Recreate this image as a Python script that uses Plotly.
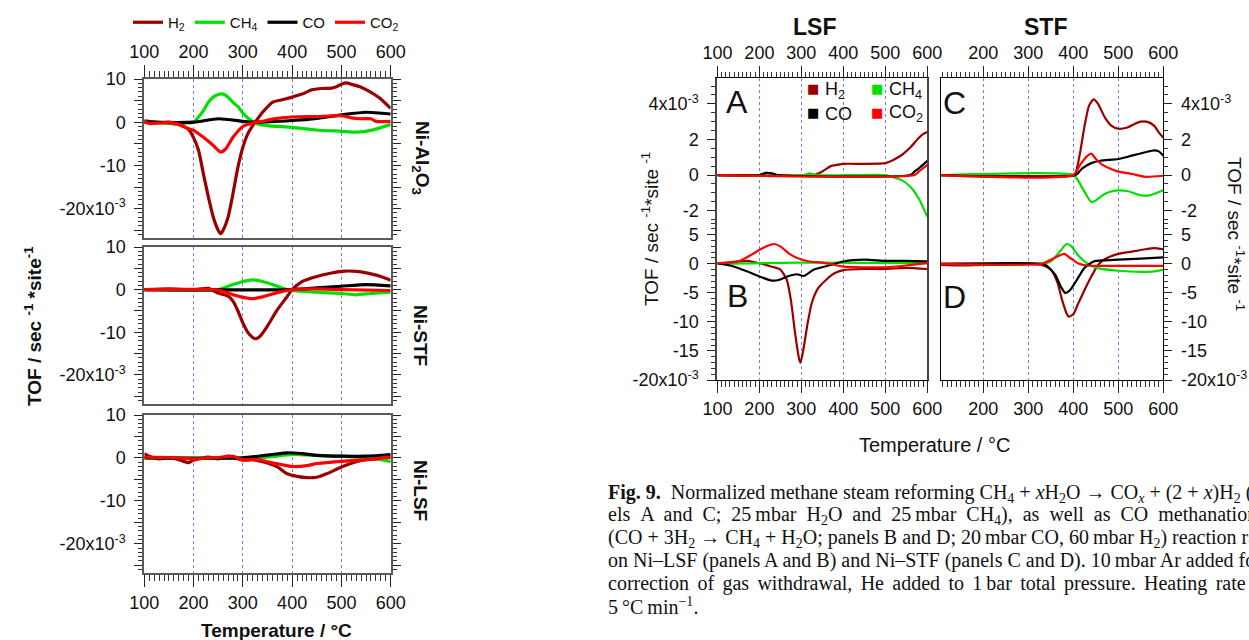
import plotly.graph_objects as go

W, H = 1249, 640

# ---------------- DATA (TOF in 1e-3 sec^-1 site^-1, T in degC) ----------------
# Left figure, Ni-Al2O3
al_h2_T = [100, 150, 170, 190, 200, 210, 220, 230, 240, 250, 255, 260, 270, 280, 290, 300, 310, 320, 330, 340, 360, 380, 400, 420, 440, 460, 480, 490, 500, 510, 520, 540, 560, 580, 600]
al_h2 = [0.3, -0.3, -0.5, -1.7, -3.6, -6.5, -12, -17.3, -22, -25, -25.8, -25, -22, -16.5, -10.4, -5.8, -2.7, -0.8, 0.8, 2.3, 4.6, 5.2, 5.8, 6.5, 7.5, 7.8, 7.9, 8.2, 8.8, 9.1, 8.8, 8.1, 6.9, 5.4, 3.2]
al_ch4_T = [100, 200, 210, 220, 230, 240, 250, 260, 270, 280, 290, 300, 310, 320, 330, 350, 400, 450, 500, 530, 560, 600]
al_ch4 = [0, 0, 1.2, 2.7, 4.6, 5.8, 6.4, 6.5, 5.8, 4.6, 3.6, 2.1, 1.0, 0.2, -0.4, -0.8, -1.2, -1.8, -2.1, -2.3, -1.9, -0.5]
al_co_T = [100, 200, 250, 300, 320, 400, 450, 500, 550, 600]
al_co = [0, 0, 0.8, 0.2, 0, 0.4, 0.9, 1.7, 2.3, 1.9]
al_co2_T = [100, 110, 130, 150, 170, 190, 200, 220, 240, 255, 265, 280, 300, 320, 340, 360, 400, 450, 500, 520, 540, 560, 570, 600]
al_co2 = [0.2, -0.3, -0.2, 0, -0.5, -1.5, -1.9, -3.5, -5.4, -6.9, -6.2, -3.5, -1.0, -0.2, 0.2, 0.7, 1.2, 1.3, 1.5, 1.0, 0.8, 0.8, 0.2, 0.2]

# Left figure, Ni-STF
st_h2_T = [100, 150, 200, 230, 250, 270, 280, 290, 300, 310, 320, 325, 335, 350, 370, 390, 400, 420, 450, 480, 500, 530, 560, 580, 600]
st_h2 = [0, 0.2, 0, 0.3, -0.8, -1.5, -2.7, -5, -7.8, -10, -11.2, -11.5, -10.9, -8.5, -4.7, -1.6, 0, 1.9, 3.1, 3.9, 4.3, 4.3, 3.7, 3.1, 2.2]
st_ch4_T = [100, 250, 270, 300, 320, 340, 360, 380, 400, 450, 500, 530, 560, 600]
st_ch4 = [0, 0, 0.8, 1.9, 2.3, 1.9, 1.2, 0.4, -0.2, -0.6, -0.9, -1.2, -0.9, -0.6]
st_co_T = [100, 400, 450, 500, 550, 600]
st_co = [0, 0, 0.4, 0.8, 1.2, 0.9]
st_co2_T = [100, 240, 260, 280, 300, 320, 340, 360, 380, 400, 450, 500, 600]
st_co2 = [0, 0, -0.4, -1.2, -1.8, -2.1, -1.7, -1.0, -0.4, 0, 0.2, 0, -0.2]

# Left figure, Ni-LSF
ls_h2_T = [100, 110, 130, 150, 170, 190, 200, 230, 250, 270, 290, 300, 320, 350, 370, 390, 410, 430, 450, 470, 500, 530, 550, 580, 600]
ls_h2 = [1.0, 0.4, -0.2, 0.1, -0.4, -1.1, -0.5, 0.2, -0.2, 0.4, -0.2, -0.5, -0.4, -1.2, -2.1, -3.7, -4.3, -4.6, -4.5, -3.7, -2.1, -0.9, -0.4, -0.2, 0.1]
ls_ch4_T = [100, 300, 350, 400, 450, 500, 550, 580, 600]
ls_ch4 = [0, 0, 0.2, 0.8, 0.6, 0.4, 0, -0.4, -0.9]
ls_co_T = [100, 300, 330, 360, 390, 420, 450, 500, 550, 600]
ls_co = [0, 0, 0.4, 0.8, 1.2, 1.0, 0.6, 0.4, 0.4, 0.8]
ls_co2_T = [100, 150, 200, 250, 280, 300, 330, 350, 380, 400, 430, 450, 500, 550, 600]
ls_co2 = [0.2, 0.1, -0.2, 0.1, 0.4, -0.4, -0.4, -0.9, -1.6, -2.0, -1.8, -1.3, -0.8, -0.4, 0.2]

# Right figure, panel A (LSF, steam reforming)
a_h2_T = [100, 200, 220, 240, 330, 350, 370, 385, 400, 450, 500, 520, 540, 560, 580, 590, 600]
a_h2 = [0, 0, 0.1, 0, 0, 0.2, 0.5, 0.57, 0.63, 0.63, 0.67, 0.86, 1.14, 1.56, 2.1, 2.3, 2.42]
a_ch4_T = [100, 305, 320, 335, 500, 520, 540, 560, 580, 600]
a_ch4 = [0, 0, 0.1, 0, 0, -0.13, -0.3, -0.67, -1.33, -2.34]
a_co_T = [100, 200, 215, 230, 245, 560, 570, 580, 600]
a_co = [0, 0, 0.12, 0.1, 0, 0, 0.2, 0.38, 0.8]
a_co2_T = [100, 570, 580, 600]
a_co2 = [0, 0, 0.2, 0.57]

# Right figure, panel B (LSF, CO methanation)
b_h2_T = [100, 150, 170, 200, 230, 250, 265, 275, 285, 295, 298, 305, 315, 325, 340, 360, 380, 400, 450, 500, 550, 600]
b_h2 = [0, 0.4, 0.5, 0.1, -0.5, -1.0, -2.7, -6.2, -11.9, -16.5, -17, -14.7, -10.2, -6.7, -4.2, -2.7, -1.6, -1.1, -0.9, -0.9, -0.7, -0.9]
b_ch4_T = [100, 300, 600]
b_ch4 = [0, 0.2, 0.1]
b_co_T = [100, 130, 170, 200, 230, 250, 270, 290, 305, 330, 370, 400, 450, 500, 550, 600]
b_co = [0.1, -0.3, -1.3, -2.2, -2.9, -2.7, -2.1, -1.8, -2.1, -1.0, -0.2, 0.4, 0.7, 0.5, 0.5, 0.4]
b_co2_T = [100, 150, 180, 200, 220, 235, 250, 270, 290, 320, 350, 380, 400, 450, 500, 550, 600]
b_co2 = [0.1, 0.4, 1.5, 2.4, 3.1, 3.4, 3.0, 1.8, 1.0, 0.4, 0.2, -0.2, -0.5, -0.6, -0.6, -0.3, 0.1]

# Right figure, panel C (STF, steam reforming)
c_h2_T = [106, 400, 405, 415, 425, 435, 445, 455, 470, 485, 500, 520, 535, 550, 565, 580, 590, 600]
c_h2 = [0, 0, 0.1, 1.24, 2.76, 3.9, 4.25, 4.0, 3.24, 2.76, 2.6, 2.67, 2.86, 3.0, 2.99, 2.76, 2.4, 2.1]
c_ch4_T = [106, 400, 410, 425, 440, 450, 465, 480, 500, 520, 550, 570, 600]
c_ch4 = [0, 0, -0.29, -0.95, -1.52, -1.43, -1.14, -0.95, -0.86, -0.9, -1.14, -1.14, -0.86]
c_co_T = [106, 405, 420, 440, 460, 500, 530, 560, 580, 590, 600]
c_co = [0, 0, 0.38, 0.67, 0.8, 0.9, 1.09, 1.28, 1.39, 1.33, 1.09]
c_co2_T = [106, 400, 415, 430, 440, 450, 465, 480, 500, 530, 560, 600]
c_co2 = [0, 0, 0.57, 1.05, 1.2, 0.9, 0.57, 0.38, 0.19, 0.06, -0.1, -0.04]

# Right figure, panel D (STF, CO methanation)
d_h2_T = [106, 150, 200, 250, 300, 330, 350, 365, 375, 385, 390, 400, 410, 425, 440, 455, 470, 500, 530, 560, 580, 600]
d_h2 = [-0.2, -0.3, -0.2, -0.2, 0, -0.2, -1.0, -3.3, -6.2, -8.5, -9.1, -8.7, -7.0, -4.5, -2.2, -0.2, 0.8, 1.7, 2.1, 2.5, 2.7, 2.5]
d_ch4_T = [106, 326, 350, 370, 385, 396, 410, 430, 452, 500, 550, 580, 600]
d_ch4 = [0, 0, 0.4, 2.1, 3.4, 3.0, 1.5, 0.1, -0.7, -1.2, -1.4, -1.3, -1.0]
d_co_T = [106, 330, 340, 360, 372, 382, 393, 410, 425, 445, 470, 500, 550, 600]
d_co = [0, 0, -0.3, -1.9, -3.9, -5.0, -4.5, -2.5, -0.7, 0.4, 0.6, 0.7, 0.9, 1.1]
d_co2_T = [106, 330, 350, 368, 380, 393, 410, 430, 500, 600]
d_co2 = [0, 0, 0.7, 1.4, 1.7, 1.0, 0.1, -0.3, -0.35, -0.35]

gases = ["H<sub>2</sub>", "CH<sub>4</sub>", "CO", "CO<sub>2</sub>"]
colors = ["#990000", "#00E000", "#000000", "#FF0000"]
temp_ticks = [100, 200, 300, 400, 500, 600]

# ---------------- helpers ----------------
def px(x):
    return x / W

def py(y):
    return 1 - y / H

SANS = "Liberation Sans, Arial, sans-serif"
GRID = "#7A7AFF"

fig = go.Figure()

def add_series(T, v, gi, xa, ya, width, legend=False):
    fig.add_trace(go.Scatter(
        x=T, y=v, mode="lines", name=gases[gi], xaxis=xa, yaxis=ya,
        line=dict(color=colors[gi], width=width, shape="spline", smoothing=0.6),
        showlegend=legend, hoverinfo="skip"))

left_sets = [
    ("x", "y", [(al_h2_T, al_h2), (al_ch4_T, al_ch4), (al_co_T, al_co), (al_co2_T, al_co2)]),
    ("x2", "y2", [(st_h2_T, st_h2), (st_ch4_T, st_ch4), (st_co_T, st_co), (st_co2_T, st_co2)]),
    ("x3", "y3", [(ls_h2_T, ls_h2), (ls_ch4_T, ls_ch4), (ls_co_T, ls_co), (ls_co2_T, ls_co2)]),
]
for k, (xa, ya, ser) in enumerate(left_sets):
    for gi, (T, v) in enumerate(ser):
        add_series(T, v, gi, xa, ya, 3.2, legend=(k == 0))

right_sets = [
    ("x4", "y7", [(a_h2_T, a_h2), (a_ch4_T, a_ch4), (a_co_T, a_co), (a_co2_T, a_co2)]),
    ("x5", "y8", [(b_h2_T, b_h2), (b_ch4_T, b_ch4), (b_co_T, b_co), (b_co2_T, b_co2)]),
    ("x6", "y9", [(c_h2_T, c_h2), (c_ch4_T, c_ch4), (c_co_T, c_co), (c_co2_T, c_co2)]),
    ("x7", "y10", [(d_h2_T, d_h2), (d_ch4_T, d_ch4), (d_co_T, d_co), (d_co2_T, d_co2)]),
]
for xa, ya, ser in right_sets:
    for gi, (T, v) in enumerate(ser):
        add_series(T, v, gi, xa, ya, 2.2)

# ---------------- axes ----------------
XL = [px(144.3), px(390.7)]
YL = [[py(238), py(79)], [py(404), py(247)], [py(573), py(415)]]
XA = [px(717.4), px(927.3)]
XC = [px(941), px(1163.3)]
YU = [py(222), py(77.7)]
YD = [py(380), py(222)]

def xax(domain, anchor, rng, side, labels, ticks, tlen, lcolor, lw, mirror, fs=18):
    d = dict(domain=domain, anchor=anchor, range=rng, side=side, automargin=False,
             tickmode="array", tickvals=temp_ticks, showticklabels=labels,
             ticks=ticks, ticklen=tlen, tickwidth=1.4, tickcolor="#222",
             tickfont=dict(family=SANS, size=fs, color="#111"),
             showline=True, linecolor=lcolor, linewidth=lw, mirror=mirror,
             showgrid=True, gridcolor=GRID, griddash="dot", gridwidth=1,
             zeroline=False, fixedrange=True)
    if ticks:
        d["minor"] = dict(dtick=10, tick0=100, ticks=ticks, ticklen=int(tlen / 2),
                          tickwidth=1, tickcolor="#333", showgrid=False)
    return d

def yax(domain, anchor, rng, side, tvals, ttext, minor, lcolor, lw, mirror, inside=False, fs=18, overlay=None):
    d = dict(domain=domain, anchor=anchor, range=rng, side=side, automargin=False,
             tickmode="array", tickvals=tvals, ticktext=ttext,
             ticks="inside" if inside else "outside", ticklen=8, tickwidth=1.4, tickcolor="#222",
             minor=dict(dtick=minor, tick0=0, ticks="inside" if inside else "outside",
                        ticklen=4, tickwidth=1, tickcolor="#333", showgrid=False),
             tickfont=dict(family=SANS, size=fs, color="#111"),
             showgrid=False, zeroline=False, fixedrange=True, ticklabelstandoff=5)
    if inside:
        d.update(showticklabels=False, showline=False, mirror="ticks", overlaying=overlay)
    else:
        d.update(showline=True, linecolor=lcolor, linewidth=lw, mirror=mirror)
    return d

layout_axes = {}
LRANGE = [-26.8, 10]
ltv = [-25, -20, -15, -10, -5, 0, 5, 10]
ltt = ["", "-20x10<sup>-3</sup>", "", "-10", "", "0", "", "10"]
FR = "#5A5A5A"
layout_axes["xaxis"] = xax(XL, "y", [100, 600], "top", True, "outside", 12, FR, 2, True)
layout_axes["xaxis2"] = xax(XL, "y2", [100, 600], "bottom", False, "", 0, FR, 2, True)
layout_axes["xaxis3"] = xax(XL, "y3", [100, 600], "bottom", True, "outside", 12, FR, 2, True)
for i, (yn, xn, ov) in enumerate([("yaxis", "x", "yaxis4"), ("yaxis2", "x2", "yaxis5"), ("yaxis3", "x3", "yaxis6")]):
    layout_axes[yn] = yax(YL[i], xn, LRANGE, "left", ltv, ltt, 1, FR, 2, "ticks")
    layout_axes[ov] = yax(YL[i], xn, LRANGE, "left", ltv, ltt, 1, FR, 2, "ticks",
                          inside=True, overlay=yn.replace("axis", ""))

# right figure
layout_axes["xaxis4"] = xax(XA, "y7", [100, 600], "top", True, "outside", 11, "#000", 1, False)
layout_axes["xaxis5"] = xax(XA, "y8", [100, 600], "bottom", True, "outside", 12, "#000", 1, False)
layout_axes["xaxis6"] = xax(XC, "y9", [106, 600], "top", True, "outside", 11, "#000", 1, False)
layout_axes["xaxis7"] = xax(XC, "y10", [106, 600], "bottom", True, "outside", 12, "#000", 1, False)

UR = [-2.64, 5.47]
utv = [-2, 0, 2, 4]
utt = ["-2", "0", "2", "4x10<sup>-3</sup>"]
DR = [-20, 7.19]
dtv = [-20, -15, -10, -5, 0, 5]
dtt = ["-20x10<sup>-3</sup>", "-15", "-10", "-5", "0", "5"]
layout_axes["yaxis7"] = yax(YU, "x4", UR, "left", utv, utt, 0.5, "#444", 2, True)
layout_axes["yaxis11"] = yax(YU, "x4", UR, "left", utv, utt, 0.5, "#444", 2, True, inside=True, overlay="y7")
layout_axes["yaxis8"] = yax(YD, "x5", DR, "left", dtv, dtt, 1, "#444", 2, True)
layout_axes["yaxis12"] = yax(YD, "x5", DR, "left", dtv, dtt, 1, "#444", 2, True, inside=True, overlay="y8")
layout_axes["yaxis9"] = yax(YU, "x6", UR, "right", utv, utt, 0.5, "#000", 1, True)
layout_axes["yaxis13"] = yax(YU, "x6", UR, "right", utv, utt, 0.5, "#000", 1, True, inside=True, overlay="y9")
layout_axes["yaxis10"] = yax(YD, "x7", DR, "right", dtv, dtt, 1, "#000", 1, True)
layout_axes["yaxis14"] = yax(YD, "x7", DR, "right", dtv, dtt, 1, "#000", 1, True, inside=True, overlay="y10")
for k in ["yaxis11", "yaxis12", "yaxis13", "yaxis14"]:
    layout_axes[k]["mirror"] = False

# ---------------- annotations ----------------
ann = []

def text(x, y, t, size, bold=False, angle=0, xanchor="center", yanchor="middle", family=SANS, color="#111"):
    ann.append(dict(x=px(x), y=py(y), xref="paper", yref="paper", showarrow=False,
                    text=("<b>%s</b>" % t) if bold else t, textangle=angle,
                    xanchor=xanchor, yanchor=yanchor, borderpad=0,
                    font=dict(family=family, size=size, color=color)))

# left figure labels
text(33, 326, "TOF / sec <sup>-1</sup> *site<sup>-1</sup>", 19, bold=True, angle=-90)
text(421, 158, "Ni-Al<sub>2</sub>O<sub>3</sub>", 19, bold=True, angle=90)
text(421, 335, "Ni-STF", 19, bold=True, angle=90)
text(421, 490, "Ni-LSF", 19, bold=True, angle=90)
text(276, 630, "Temperature / °C", 19, bold=True)

# right figure labels
text(814, 27, "LSF", 23, bold=True)
text(1045, 27, "STF", 23, bold=True)
text(737, 102, "A", 32)
text(737, 296, "B", 32)
text(954, 103, "C", 32)
text(954, 297, "D", 32)
text(650, 229, "TOF / sec <sup>-1</sup>*site <sup>-1</sup>", 19, angle=-90)
text(1236, 234, "TOF / sec <sup>-1</sup>*site <sup>-1</sup>", 19, angle=90)
text(934, 445, "Temperature / °C", 20)

# right legend (coloured squares)
leg_pos = [(813, 89), (877, 89), (813, 113), (877, 113)]
for gi, (lx, ly) in enumerate(leg_pos):
    text(lx, ly, "■", 13, color=colors[gi], family="DejaVu Sans")
    text(lx + 11, ly + 1, gases[gi], 18, xanchor="left")

# caption: whole lines, wider word gaps on the lines that are justified (stretched)
SERIF = "Liberation Serif, Times New Roman, serif"
T2 = "\u2009"
WIDE = " \u00a0"
MID = " \u2006"
cap = [
    "<b>Fig. 9.</b>\u00a0 Normalized methane steam reforming CH<sub>4</sub> + <i>x</i>H<sub>2</sub>O → "
    "CO<sub><i>x</i></sub> + (2 + <i>x</i>)H<sub>2</sub> (pan-",
    WIDE.join(["els", "A", "and", "C;", "25" + T2 + "mbar", "H<sub>2</sub>O", "and", "25" + T2 + "mbar",
               "CH<sub>4</sub>),", "as", "well", "as", "CO", "methanation"]),
    "(CO + 3H<sub>2</sub> → CH<sub>4</sub> + H<sub>2</sub>O; panels B and D; 20" + T2 + "mbar CO, 60" + T2 +
    "mbar H<sub>2</sub>) reaction rates",
    "on Ni–LSF (panels A and B) and Ni–STF (panels C and D). 10" + T2 + "mbar Ar added for",
    MID.join(["correction", "of", "gas", "withdrawal,", "He", "added", "to", "1" + T2 + "bar", "total",
              "pressure.", "Heating", "rate"]),
    "5" + T2 + "°C" + T2 + "min<sup>−1</sup>.",
]
for i, line in enumerate(cap):
    text(607, 493 + 22.5 * i, line, 20, xanchor="left", family=SERIF)

fig.update_layout(
    width=W, height=H, margin=dict(l=0, r=0, t=0, b=0, autoexpand=False),
    paper_bgcolor="white", plot_bgcolor="white",
    showlegend=True,
    legend=dict(orientation="h", x=px(128), y=py(6), xanchor="left", yanchor="top",
                font=dict(family=SANS, size=15, color="#111"), bgcolor="rgba(0,0,0,0)",
                itemwidth=30, tracegroupgap=0),
    annotations=ann,
    **layout_axes,
)

fig.write_html("out.html", config={"displayModeBar": False},
               post_script="document.body.style.margin='0';document.body.style.overflow='hidden';")
